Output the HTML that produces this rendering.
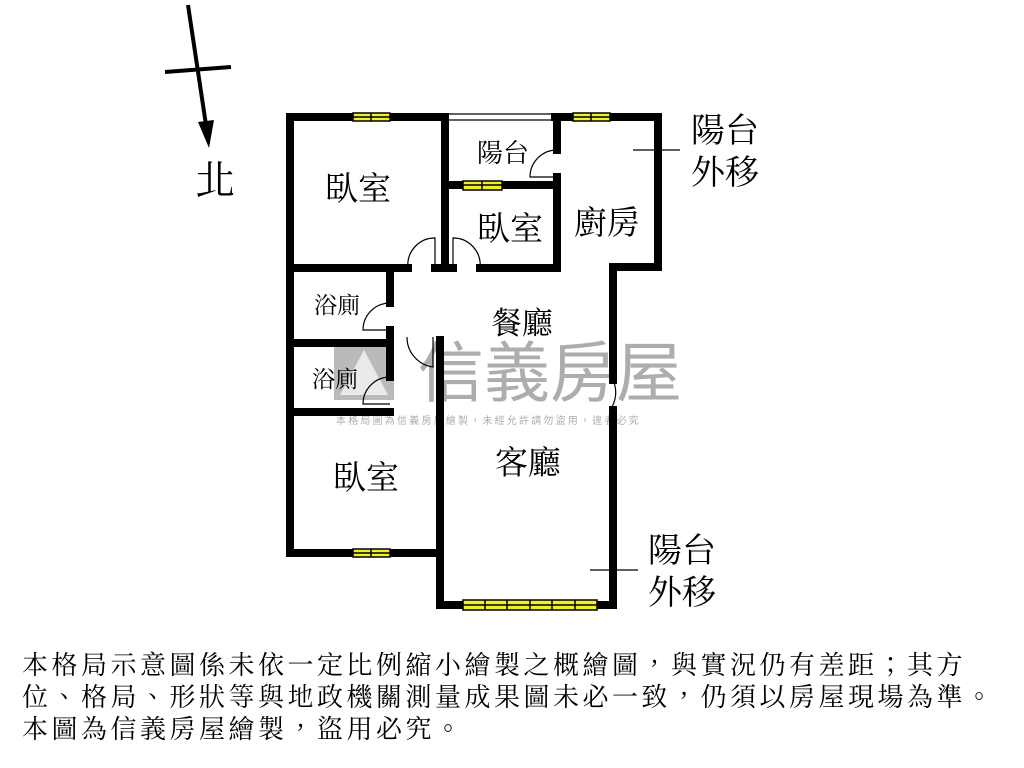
<!DOCTYPE html>
<html><head><meta charset="utf-8"><style>
body{margin:0;background:#fff;width:1024px;height:768px;overflow:hidden;position:relative;font-family:"Liberation Serif","Noto Serif CJK TC",serif}
svg{position:absolute;left:0;top:0}
.ft{position:absolute;left:22px;font-size:26px;letter-spacing:3.5px;line-height:32px;top:650px;color:#000;font-family:"Liberation Serif","Noto Serif CJK TC",serif;white-space:nowrap}
</style></head><body>
<svg width="1024" height="768" viewBox="0 0 1024 768">
<g fill="#999" opacity="0.8" font-family="Liberation Sans, Noto Sans CJK TC, sans-serif">
<rect x="334" y="340" width="60" height="60" fill="#aaa"/>
<path d="M340 395 L364 350 L388 395 Z" fill="#fff" opacity="0.7"/>
<text x="418" y="396" font-size="66">信義房屋</text>
<text x="336" y="424" font-size="10" letter-spacing="2.2">本格局圖為信義房屋繪製，未經允許請勿盜用，違者必究</text>
</g>
<g stroke="#000" stroke-width="8" fill="none" stroke-linecap="square">
<path d="M445 117 H290 V553 H440"/>
<path d="M555 117 H658 V267 H613 V380"/>
<path d="M613 410 V605 H440 V340"/>
<path d="M445 117 V268"/>
<path d="M557 117 V150 M557 177 V268 H480"/>
<path d="M445 185 H557"/>
<path d="M290 268 H408 M435 268 H453"/>
<path d="M390 268 V303 M390 330 V377"/>
<path d="M290 343 H390 M290 412 H390"/>
</g>
<g stroke="#000" stroke-width="1.2" fill="none">
<path d="M445 114 H555 M445 120 H555"/>
<path d="M557 150 A27 27 0 0 0 530 177 H557"/>
<path d="M435 268 V238 A27 27 0 0 0 408 268"/>
<path d="M453 268 V238 A27 27 0 0 1 480 268"/>
<path d="M390 303 A27 27 0 0 0 363 330 H390"/>
<path d="M390 377 A27 27 0 0 0 363 404 H390"/>
<path d="M407 337 A30 30 0 0 0 433 367 V337"/>
<path d="M613 380 A30 30 0 0 1 610 410"/>
<path d="M633 150 H680 M590 570 H638"/>
</g>
<g fill="#f2ef2a" stroke="#000" stroke-width="1.5">
<rect x="353" y="113" width="37" height="8"/><line x1="371" y1="113" x2="371" y2="121"/><line x1="353" y1="117" x2="390" y2="117"/>
<rect x="573" y="113" width="37" height="8"/><line x1="591" y1="113" x2="591" y2="121"/><line x1="573" y1="117" x2="610" y2="117"/>
<rect x="463" y="181" width="39" height="9"/><line x1="482" y1="181" x2="482" y2="190"/><line x1="463" y1="185" x2="502" y2="185"/>
<rect x="353" y="549" width="37" height="8"/><line x1="371" y1="549" x2="371" y2="557"/><line x1="353" y1="553" x2="390" y2="553"/>
<rect x="463" y="600" width="134" height="10"/><line x1="463" y1="605" x2="597" y2="605"/>
<line x1="485" y1="600" x2="485" y2="610"/><line x1="507" y1="600" x2="507" y2="610"/><line x1="530" y1="600" x2="530" y2="610"/><line x1="552" y1="600" x2="552" y2="610"/><line x1="575" y1="600" x2="575" y2="610"/>
</g>
<g stroke="#000" stroke-width="4" fill="none">
<line x1="188" y1="5" x2="206" y2="125"/>
<line x1="165" y1="72" x2="231" y2="67"/>
</g>
<path d="M198 122 L214 120 L209 148 Z" fill="#000"/>
<g font-family="Liberation Serif, Noto Serif CJK TC, serif" fill="#000" text-anchor="middle">
<text x="215" y="194" font-size="40">北</text>
<text x="358" y="200" font-size="33">臥室</text>
<text x="503" y="162" font-size="26">陽台</text>
<text x="510" y="240" font-size="33">臥室</text>
<text x="607" y="234" font-size="33">廚房</text>
<text x="337" y="313" font-size="23">浴廁</text>
<text x="335" y="387" font-size="23">浴廁</text>
<text x="522" y="334" font-size="31">餐廳</text>
<text x="528" y="474" font-size="33">客廳</text>
<text x="366" y="489" font-size="33">臥室</text>
<text x="725" y="142" font-size="34">陽台</text>
<text x="725" y="184" font-size="34">外移</text>
<text x="682" y="562" font-size="34">陽台</text>
<text x="682" y="604" font-size="34">外移</text>
</g>
</svg>
<div class="ft">本格局示意圖係未依一定比例縮小繪製之概繪圖，與實況仍有差距；其方<br>位、格局、形狀等與地政機關測量成果圖未必一致，仍須以房屋現場為準。<br>本圖為信義房屋繪製，盜用必究。</div>
</body></html>
